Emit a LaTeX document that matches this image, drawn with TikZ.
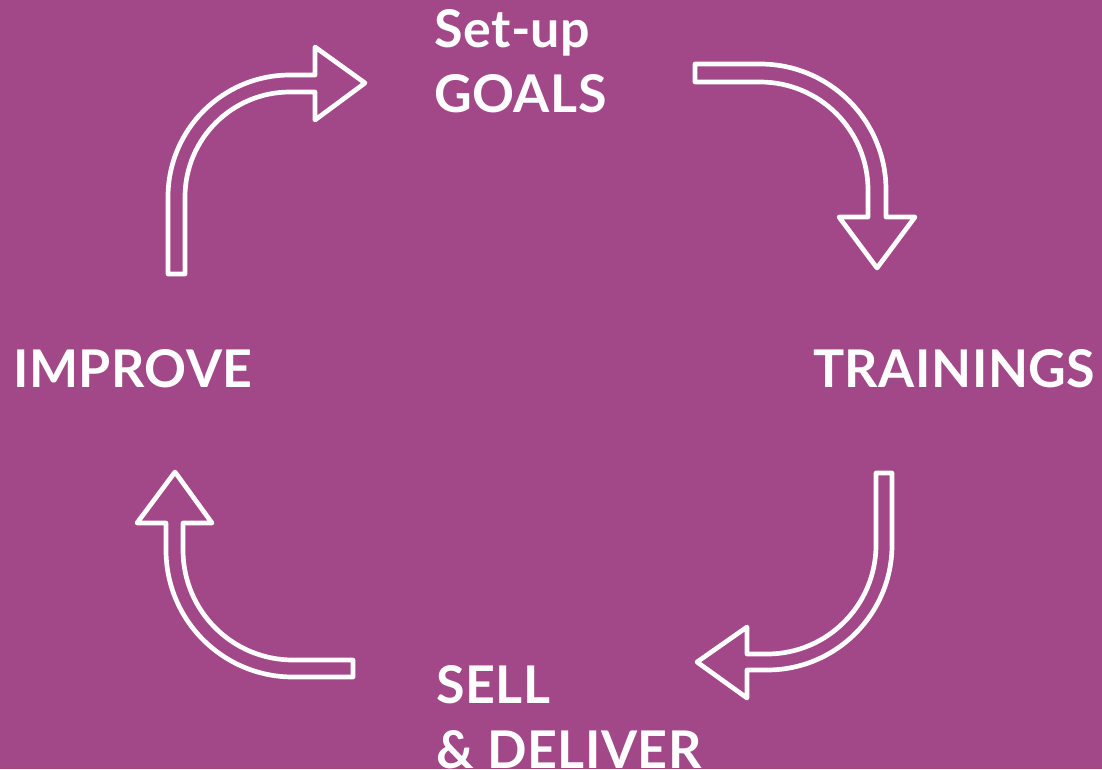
\documentclass[tikz,border=0pt]{standalone}
\usepackage{fontspec}
\setmainfont{Lato}
\newfontfamily\stagefont{Lato}[LetterSpace=1]
\usepackage{tikz}
\definecolor{bgpurple}{RGB}{162,71,136}

\begin{document}
\begin{tikzpicture}[x=1pt, y=-1pt,
    stage/.style={anchor=base west, inner sep=0pt, text=white, align=left,
      font=\stagefont\fontsize{52}{65}\selectfont\bfseries},
    hollow/.style={draw=white, line width=4.7pt, line join=round}]

  % background, fixes the page size too
  \useasboundingbox (0,0) rectangle (1102,769);
  \fill[bgpurple] (0,0) rectangle (1102,769);

  % two-line nodes sit on the baseline of their last line
  \node[stage] (goals) at (434,112) {Set-up\\GOALS};
  \node[stage] (trainings) at (813,387) {TRAININGS};
  \node[stage] (sell) at (436,768) {SELL\\\& DELIVER};
  \node[stage] (improve) at (13,387) {IMPROVE};

  % improve -> goals
  \draw[hollow] (168,274) -- (168,197) arc[start angle=180, end angle=270, radius=122]
    -- (315,75) -- (315,47) -- (365,83) -- (315,120) -- (315,92)
    -- (290,92) arc[start angle=270, end angle=180, radius=105] -- (185,274) -- cycle;

  % goals -> trainings
  \draw[hollow] (695,64) -- (760,64) arc[start angle=270, end angle=360, radius=126]
    -- (886,217) -- (915,217) -- (877,268) -- (839,217) -- (868,217)
    -- (868,190) arc[start angle=0, end angle=-90, radius=108] -- (695,82) -- cycle;

  % trainings -> sell
  \draw[hollow] (876,473) -- (892,473) -- (892,545) arc[start angle=0, end angle=90, radius=125]
    -- (747,670) -- (747,698) -- (697,662) -- (747,627) -- (747,654)
    -- (767,654) arc[start angle=90, end angle=0, radius=109] -- cycle;

  % sell -> improve
  \draw[hollow] (353,660) -- (353,677) -- (293,677) arc[start angle=90, end angle=180, radius=127]
    -- (166,523) -- (137,523) -- (175,472) -- (212,523) -- (183,523)
    -- (183,550) arc[start angle=180, end angle=90, radius=110] -- cycle;
\end{tikzpicture}
\end{document}
